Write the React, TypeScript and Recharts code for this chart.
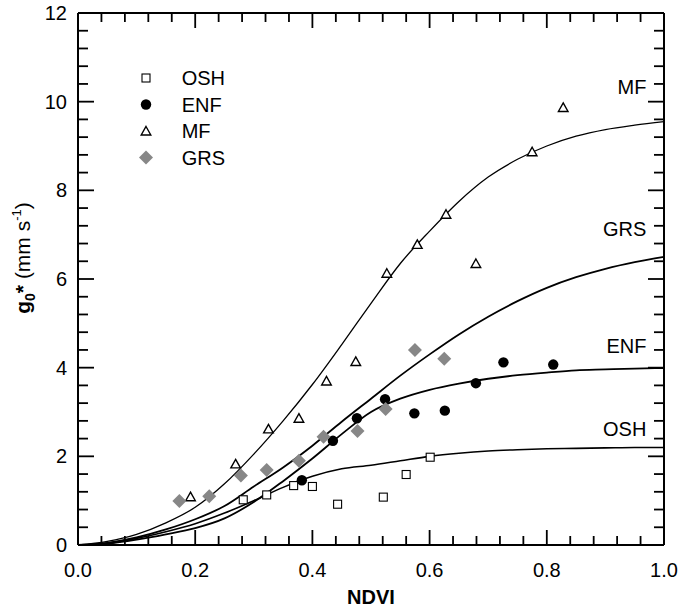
import { ComposedChart, Line, Scatter, XAxis, YAxis, Legend, ReferenceDot } from 'recharts';

document.body.style.margin = '0';

const FONT = '"Liberation Sans", Arial, sans-serif';

const curveX = [0, 0.05, 0.1, 0.15, 0.2, 0.25, 0.3, 0.35, 0.4, 0.45, 0.5, 0.55, 0.6, 0.65, 0.7, 0.75, 0.8, 0.85, 0.9, 0.95, 1.0];
const mfCurve = [0, 0.08, 0.24, 0.5, 0.85, 1.38, 2.05, 2.8, 3.62, 4.52, 5.45, 6.35, 7.08, 7.75, 8.3, 8.7, 9.0, 9.22, 9.37, 9.47, 9.55];
const grsCurve = [0, 0.05, 0.17, 0.35, 0.58, 0.88, 1.32, 1.75, 2.24, 2.78, 3.3, 3.82, 4.3, 4.75, 5.15, 5.5, 5.8, 6.04, 6.23, 6.38, 6.5];
const enfCurve = [0, 0.03, 0.12, 0.24, 0.38, 0.6, 0.97, 1.44, 1.95, 2.5, 3.0, 3.3, 3.5, 3.64, 3.75, 3.83, 3.89, 3.94, 3.96, 3.98, 3.99];
const oshCurve = [0, 0.04, 0.15, 0.3, 0.48, 0.72, 1.0, 1.3, 1.55, 1.72, 1.8, 1.9, 2.0, 2.07, 2.12, 2.15, 2.17, 2.18, 2.19, 2.2, 2.2];

// observations
const oshX = [0.282, 0.322, 0.368, 0.4, 0.443, 0.521, 0.56, 0.601];
const oshY = [1.02, 1.13, 1.34, 1.32, 0.92, 1.08, 1.59, 1.98];
const enfX = [0.382, 0.435, 0.476, 0.524, 0.574, 0.626, 0.679, 0.726, 0.811];
const enfY = [1.46, 2.35, 2.86, 3.29, 2.97, 3.03, 3.65, 4.12, 4.07];
const mfX = [0.192, 0.269, 0.325, 0.377, 0.424, 0.474, 0.527, 0.579, 0.628, 0.679, 0.775, 0.828];
const mfY = [1.09, 1.83, 2.62, 2.86, 3.7, 4.14, 6.13, 6.78, 7.46, 6.35, 8.87, 9.87];
const grsX = [0.173, 0.224, 0.278, 0.322, 0.377, 0.419, 0.477, 0.525, 0.575, 0.625];
const grsY = [0.99, 1.1, 1.57, 1.69, 1.9, 2.44, 2.57, 3.07, 4.4, 4.2];

const xMajor = [0, 0.2, 0.4, 0.6, 0.8, 1.0];
const xMinor = [0.04, 0.08, 0.12, 0.16, 0.24, 0.28, 0.32, 0.36, 0.44, 0.48, 0.52, 0.56, 0.64, 0.68, 0.72, 0.76, 0.84, 0.88, 0.92, 0.96];
const yMajor = [0, 2, 4, 6, 8, 10, 12];
const yMinor = [0.4, 0.8, 1.2, 1.6, 2.4, 2.8, 3.2, 3.6, 4.4, 4.8, 5.2, 5.6, 6.4, 6.8, 7.2, 7.6, 8.4, 8.8, 9.2, 9.6, 10.4, 10.8, 11.2, 11.6];

const curveNames = ['MF', 'GRS', 'ENF', 'OSH'];
// where the curve names sit (data coords, right aligned)
const curveLabelX = [0.97, 0.97, 0.97, 0.97];
const curveLabelY = [10.33, 7.12, 4.5, 2.63];

const toPts = (xs: number[], ys: number[]) => xs.map((x, i) => ({ x, y: ys[i] }));

const series = [
  { name: 'OSH', kind: 'square', data: toPts(oshX, oshY) },
  { name: 'ENF', kind: 'circle', data: toPts(enfX, enfY) },
  { name: 'MF', kind: 'triangle', data: toPts(mfX, mfY) },
  { name: 'GRS', kind: 'diamond', data: toPts(grsX, grsY) },
];

const curves = [
  { name: 'MF', data: toPts(curveX, mfCurve), width: 1.3 },
  { name: 'GRS', data: toPts(curveX, grsCurve), width: 1.8 },
  { name: 'ENF', data: toPts(curveX, enfCurve), width: 1.8 },
  { name: 'OSH', data: toPts(curveX, oshCurve), width: 1.6 },
];

// plot box (chart margin + axis sizes below)
const W = 680;
const H = 611;
const margin = { top: 12, right: 15, bottom: 0, left: 0 };
const box = { left: 78, top: 13, right: 664, bottom: 545 };
const px = (v: number) => box.left + v * (box.right - box.left);
const py = (v: number) => box.bottom - (v / 12) * (box.bottom - box.top);

// inward frame ticks, overlaid on the chart
const FrameTicks = () => (
  <svg width={W} height={H} style={{ position: 'absolute', left: 0, top: 0, pointerEvents: 'none' }}>
    <g stroke="#000" strokeWidth={1.8}>
      {[...xMajor.map((v) => [v, 15]), ...xMinor.map((v) => [v, 9])].map(([v, len]) => (
        <g key={'x' + v}>
          <line x1={px(v)} y1={box.bottom} x2={px(v)} y2={box.bottom - len} />
          <line x1={px(v)} y1={box.top} x2={px(v)} y2={box.top + len} />
        </g>
      ))}
      {[...yMajor.map((v) => [v, 16]), ...yMinor.map((v) => [v, 10])].map(([v, len]) => (
        <g key={'y' + v}>
          <line x1={box.left} y1={py(v)} x2={box.left + len} y2={py(v)} />
          <line x1={box.right} y1={py(v)} x2={box.right - len} y2={py(v)} />
        </g>
      ))}
    </g>
  </svg>
);

const Marker = ({ kind, cx, cy }: any) => {
  if (kind === 'square')
    return <rect x={cx - 4} y={cy - 4} width={8} height={8} fill="#fff" stroke="#000" strokeWidth={1.1} />;
  if (kind === 'circle') return <circle cx={cx} cy={cy} r={5.2} fill="#000" />;
  if (kind === 'triangle')
    return (
      <polygon
        points={`${cx},${cy - 4.5} ${cx + 4.8},${cy + 4} ${cx - 4.8},${cy + 4}`}
        fill="#fff"
        stroke="#000"
        strokeWidth={1.4}
      />
    );
  return <polygon points={`${cx},${cy - 7} ${cx + 7},${cy} ${cx},${cy + 7} ${cx - 7},${cy}`} fill="#878787" />;
};

const BottomLabel = ({ x, y, payload }: any) => (
  <text x={x} y={y + 32} textAnchor="middle" fontSize={20} fontFamily={FONT} fill="#000">
    {payload.value.toFixed(1)}
  </text>
);

const LeftLabel = ({ x, y, payload }: any) => (
  <text x={x - 11} y={y + 7} textAnchor="end" fontSize={20} fontFamily={FONT} fill="#000">
    {payload.value}
  </text>
);

const LegendBox = () => (
  <svg width={130} height={110} style={{ display: 'block' }}>
    {series.map((s, i) => (
      <g key={s.name}>
        <Marker kind={s.kind} cx={16} cy={18 + i * 26.5} />
        <text x={51.7} y={25 + i * 26.5} fontSize={20} fontFamily={FONT} fill="#000">
          {s.name}
        </text>
      </g>
    ))}
  </svg>
);

const frame = { stroke: '#000', strokeWidth: 2 };

export default function App() {
  return (
    <div style={{ position: 'relative', width: W, height: H }}>
      <ComposedChart width={W} height={H} margin={margin}>
        <XAxis
          xAxisId="b"
          type="number"
          dataKey="x"
          domain={[0, 1]}
          ticks={xMajor}
          height={66}
          tickSize={0}
          tickMargin={0}
          tickLine={false}
          axisLine={frame}
          tick={<BottomLabel />}
          label={() => (
            <text x={371} y={604} textAnchor="middle" fontSize={20} fontWeight="bold" fontFamily={FONT} fill="#000">
              NDVI
            </text>
          )}
        />
        <XAxis xAxisId="t" orientation="top" type="number" dataKey="x" domain={[0, 1]} ticks={xMajor}
          height={1} tick={false} tickLine={false} axisLine={frame} />
        <YAxis
          yAxisId="l"
          type="number"
          dataKey="y"
          domain={[0, 12]}
          ticks={yMajor}
          width={78}
          tickSize={0}
          tickMargin={0}
          tickLine={false}
          axisLine={frame}
          tick={<LeftLabel />}
          label={() => (
            <text transform="translate(30,258) rotate(-90)" textAnchor="middle" fontSize={21} fontFamily={FONT} fill="#000">
              <tspan fontWeight="bold">g</tspan>
              <tspan fontWeight="bold" fontSize={14} dy={5}>0</tspan>
              <tspan fontWeight="bold" dy={-5}>*</tspan>
              <tspan>{' (mm s'}</tspan>
              <tspan fontSize={13} dy={-9}>-1</tspan>
              <tspan dy={9}>)</tspan>
            </text>
          )}
        />
        <YAxis yAxisId="r" orientation="right" type="number" dataKey="y" domain={[0, 12]} ticks={yMajor}
          width={1} tick={false} tickLine={false} axisLine={frame} />

        {curves.map((c) => (
          <Line
            key={c.name}
            xAxisId="b"
            yAxisId="l"
            data={c.data}
            dataKey="y"
            type="monotone"
            stroke="#000"
            strokeWidth={c.width}
            dot={false}
            isAnimationActive={false}
          />
        ))}

        {series.map((s) => (
          <Scatter
            key={s.name}
            name={s.name}
            xAxisId="b"
            yAxisId="l"
            data={s.data}
            fill="#000"
            shape={(p: any) => <Marker kind={s.kind} cx={p.cx} cy={p.cy} />}
            isAnimationActive={false}
          />
        ))}

        {curveNames.map((n, i) => (
          <ReferenceDot
            key={n}
            xAxisId="b"
            yAxisId="l"
            x={curveLabelX[i]}
            y={curveLabelY[i]}
            r={0}
            label={{ value: n, position: 'left', offset: 0, fontSize: 20, fontFamily: FONT, fill: '#000' }}
          />
        ))}

        <Legend
          layout="vertical"
          align="center"
          verticalAlign="middle"
          content={<LegendBox />}
          wrapperStyle={{ left: 130, top: 60, width: 130, height: 110 }}
        />
      </ComposedChart>
      <FrameTicks />
    </div>
  );
}
